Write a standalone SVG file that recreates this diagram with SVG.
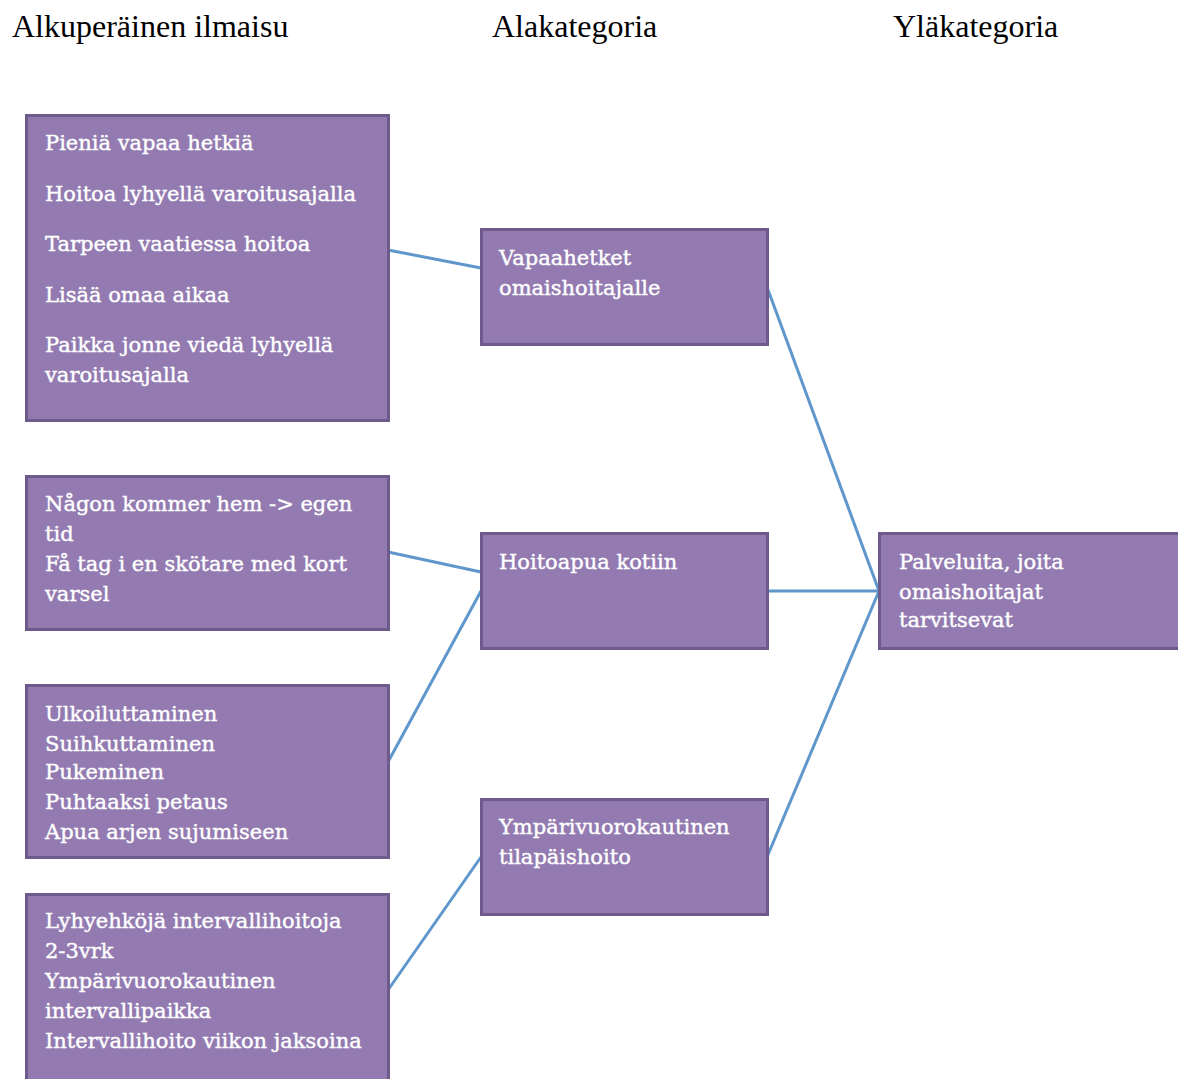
<svg xmlns="http://www.w3.org/2000/svg" width="1178" height="1079" viewBox="0 0 1178 1079">
<style>
.t{font-family:"Liberation Serif","Times New Roman",serif;font-size:32px;fill:#000}
.box{fill:#937bb1;stroke:#6f5a8c;stroke-width:3}
.l{font-family:"DejaVu Serif",serif;font-size:21px;fill:#fff;stroke:#fff;stroke-width:0.4}
.c{stroke:#5f97cc;stroke-width:3;fill:none}
</style>
<rect width="1178" height="1079" fill="#fff"/>
<g id="titles">
<text class="t" x="12" y="37">Alkuperäinen ilmaisu</text>
<text class="t" x="492" y="37">Alakategoria</text>
<text class="t" x="893" y="37">Yläkategoria</text>
</g>
<g id="connectors">
<line class="c" x1="388" y1="250" x2="481" y2="268"/>
<line class="c" x1="388" y1="552" x2="481" y2="572"/>
<line class="c" x1="388" y1="762" x2="481" y2="591"/>
<line class="c" x1="388" y1="990" x2="481" y2="857"/>
<line class="c" x1="767" y1="287" x2="879" y2="591"/>
<line class="c" x1="767" y1="591" x2="879" y2="591"/>
<line class="c" x1="767" y1="857" x2="879" y2="591"/>
</g>
<g id="n1">
<rect class="box" x="26.5" y="115.5" width="362" height="305"/>
<text class="l" x="45" y="150">Pieniä vapaa hetkiä</text>
<text class="l" x="45" y="201">Hoitoa lyhyellä varoitusajalla</text>
<text class="l" x="45" y="251">Tarpeen vaatiessa hoitoa</text>
<text class="l" x="45" y="302">Lisää omaa aikaa</text>
<text class="l" x="45" y="352">Paikka jonne viedä lyhyellä</text>
<text class="l" x="45" y="382">varoitusajalla</text>
</g>
<g id="n2">
<rect class="box" x="481.5" y="229.5" width="286" height="115"/>
<text class="l" x="499" y="265">Vapaahetket</text>
<text class="l" x="499" y="295">omaishoitajalle</text>
</g>
<g id="n3">
<rect class="box" x="26.5" y="476.5" width="362" height="153"/>
<text class="l" x="45" y="511">Någon kommer hem -&gt; egen</text>
<text class="l" x="45" y="541">tid</text>
<text class="l" x="45" y="571">Få tag i en skötare med kort</text>
<text class="l" x="45" y="601">varsel</text>
</g>
<g id="n4">
<rect class="box" x="481.5" y="533.5" width="286" height="115"/>
<text class="l" x="499" y="569">Hoitoapua kotiin</text>
</g>
<g id="n5">
<rect class="box" x="26.5" y="685.5" width="362" height="172"/>
<text class="l" x="45" y="721">Ulkoiluttaminen</text>
<text class="l" x="45" y="751">Suihkuttaminen</text>
<text class="l" x="45" y="779">Pukeminen</text>
<text class="l" x="45" y="809">Puhtaaksi petaus</text>
<text class="l" x="45" y="839">Apua arjen sujumiseen</text>
</g>
<g id="n6">
<rect class="box" x="481.5" y="799.5" width="286" height="115"/>
<text class="l" x="499" y="834">Ympärivuorokautinen</text>
<text class="l" x="499" y="864">tilapäishoito</text>
</g>
<g id="n7">
<rect class="box" x="26.5" y="894.5" width="362" height="200"/>
<text class="l" x="45" y="928">Lyhyehköjä intervallihoitoja</text>
<text class="l" x="45" y="958">2-3vrk</text>
<text class="l" x="45" y="988">Ympärivuorokautinen</text>
<text class="l" x="45" y="1018">intervallipaikka</text>
<text class="l" x="45" y="1048">Intervallihoito viikon jaksoina</text>
</g>
<g id="n8">
<rect class="box" x="879.5" y="533.5" width="310" height="115"/>
<text class="l" x="899" y="569">Palveluita, joita</text>
<text class="l" x="899" y="599">omaishoitajat</text>
<text class="l" x="899" y="627">tarvitsevat</text>
</g>
</svg>
